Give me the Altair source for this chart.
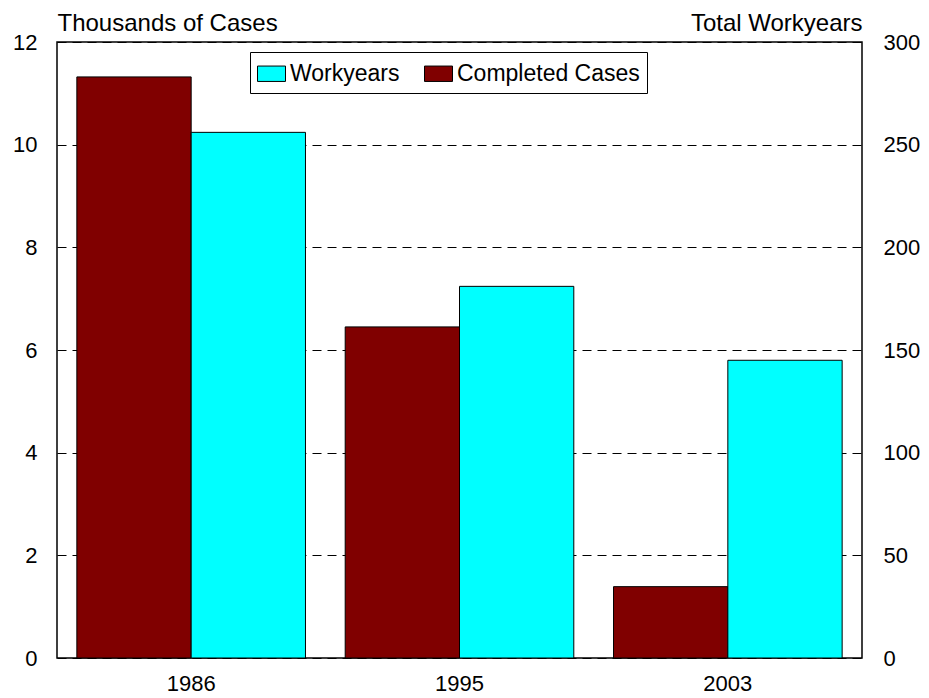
import altair as alt
import pandas as pd

years = ["1986", "1995", "2003"]
completed_cases = [11.32, 6.45, 1.39]      # thousands of cases (left axis)
workyears = [256, 181, 145]                # total workyears (right axis)

series_order = ["Completed Cases", "Workyears"]
legend_order = ["Workyears", "Completed Cases"]
colors = ["#00FFFF", "#800000"]

cases_df = pd.DataFrame({"year": years, "value": completed_cases, "series": "Completed Cases"})
work_df = pd.DataFrame({"year": years, "value": workyears, "series": "Workyears"})

FONT = "Liberation Sans"

x_enc = alt.X(
    "year:N",
    sort=years,
    scale=alt.Scale(paddingInner=0.148, paddingOuter=0.074),
    axis=alt.Axis(title=None, labelAngle=0, labelFontSize=22, labelPadding=15,
                  ticks=False, tickSize=0, domain=False, labelColor="black", labelFont=FONT),
)
xoff = alt.XOffset("series:N", scale=alt.Scale(domain=series_order, paddingInner=0, paddingOuter=0))
color_enc = alt.Color(
    "series:N",
    scale=alt.Scale(domain=legend_order, range=colors),
    legend=alt.Legend(
        title=None, orient="none", legendX=193, legendY=10, direction="horizontal",
        columns=2, strokeColor="black", fillColor="white", padding=7,
        labelFontSize=23, labelFont=FONT, labelColor="black", labelOffset=4, labelLimit=400,
        columnPadding=22, symbolType="M-1,-0.55H1V0.55H-1Z", symbolSize=784,
        symbolStrokeColor="black", symbolStrokeWidth=1, symbolOpacity=1,
    ),
)

left = alt.Chart(cases_df).mark_bar(stroke="black", strokeWidth=1, opacity=1).encode(
    x=x_enc,
    xOffset=xoff,
    y=alt.Y(
        "value:Q",
        scale=alt.Scale(domain=[0, 12], nice=False),
        axis=alt.Axis(
            title="Thousands of Cases", titleAngle=0, titleAlign="left", titleX=0, titleY=-12,
            titleBaseline="alphabetic", titleFontSize=24, titleFontWeight="normal", titleFont=FONT,
            titleColor="black",
            values=[0, 2, 4, 6, 8, 10, 12], format="d",
            labelFontSize=22, labelFont=FONT, labelColor="black", labelPadding=20,
            ticks=False, tickSize=0, domain=False,
            grid=True, gridDash=[9, 6], gridColor="black", gridWidth=1, gridOpacity=1,
        ),
    ),
    color=color_enc,
)

right = alt.Chart(work_df).mark_bar(stroke="black", strokeWidth=1, opacity=1).encode(
    x=x_enc,
    xOffset=xoff,
    y=alt.Y(
        "value:Q",
        scale=alt.Scale(domain=[0, 300], nice=False),
        axis=alt.Axis(
            orient="right",
            title="Total Workyears", titleAngle=0, titleAlign="right", titleX=0, titleY=-12,
            titleBaseline="alphabetic", titleFontSize=24, titleFontWeight="normal", titleFont=FONT,
            titleColor="black",
            values=[0, 50, 100, 150, 200, 250, 300], format="d",
            labelFontSize=22, labelFont=FONT, labelColor="black", labelPadding=21,
            ticks=False, tickSize=0, domain=False, grid=False,
        ),
    ),
    color=color_enc,
)

chart = alt.layer(left, right).resolve_scale(y="independent").properties(
    width=805,
    height=616,
    background="white",
    autosize=alt.AutoSizeParams(type="none"),
    padding={"left": 49, "top": 34, "right": 59, "bottom": 40},
).configure_view(stroke="black", strokeWidth=1.5, fill="white")

chart.save("out.html", embed_options={"renderer": "svg", "actions": False})
